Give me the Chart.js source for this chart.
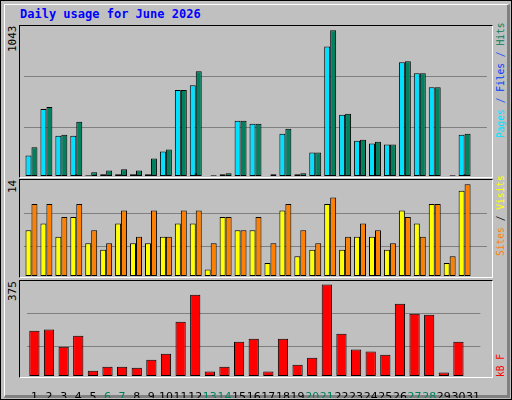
<!DOCTYPE html>
<html>
<head>
<meta charset="utf-8">
<script src="https://cdn.jsdelivr.net/npm/chart.js@4"></script>
<style>
  body { margin: 0; background: #fff; }
  #frame { position: absolute; left: 0; top: 0; width: 510px; height: 398px; border: 1px solid #000; background: #c0c0c0; }
  #shade { position: absolute; left: 3px; top: 3px; width: 502px; height: 390px; border-right: 3px solid #808080; border-bottom: 3px solid #808080; border-left: 1px solid #fff; border-top: 1px solid #fff; }
  .panel { position: absolute; left: 19px; width: 472px; border-left: 1px solid #000; border-top: 1px solid #000; border-right: 1px solid #fff; border-bottom: 1px solid #fff; }
  canvas { position: absolute; }
  .txt { position: absolute; font-family: "DejaVu Sans Mono", monospace; white-space: nowrap; }
  .rot { transform-origin: 0 0; transform: rotate(-90deg); }
</style>
</head>
<body>
<div id="frame"><div id="shade"></div></div>
<div class="txt" style="left:20px;top:7px;font-size:12px;font-weight:bold;color:#0000ff;">Daily usage for June 2026</div>

<div class="panel" style="top:25px;height:151px;"></div>
<div class="panel" style="top:179px;height:97px;"></div>
<div class="panel" style="top:280px;height:96px;"></div>
<canvas id="c1" style="left:24px;top:26px;"></canvas>
<canvas id="c2" style="left:24px;top:180px;"></canvas>
<canvas id="c3" style="left:24px;top:281px;"></canvas>

<div class="txt rot" style="left:6px;top:52px;font-size:11px;color:#000;">1043</div>
<div class="txt rot" style="left:6px;top:193px;font-size:11px;color:#000;">14</div>
<div class="txt rot" style="left:6px;top:301px;font-size:11px;color:#000;">375</div>

<div class="txt rot" style="left:495px;top:138px;font-size:9.6px;"><span style="color:#00e0ff">Pages</span><span style="color:#0040ff"> / Files / </span><span style="color:#00805c">Hits</span></div>
<div class="txt rot" style="left:495px;top:256px;font-size:9.6px;"><span style="color:#ff8000">Sites</span><span style="color:#000"> / </span><span style="color:#ffff00">Visits</span></div>
<div class="txt rot" style="left:495px;top:377px;font-size:9.6px;color:#ff0000;">kB F</div>

<script>
const days = ['1','2','3','4','5','6','7','8','9','10','11','12','13','14','15','16','17','18','19','20','21','22','23','24','25','26','27','28','29','30','31'];
const weekend = ['6','7','13','14','20','21','27','28'];
const hits = [206,494,296,388,26,40,48,40,125,189,615,750,5,19,395,374,12,338,19,168,1043,445,260,246,225,821,736,636,5,303,0];
const pages = [147,480,289,289,5,12,12,12,12,175,615,650,0,12,395,374,0,303,12,168,927,438,253,232,225,814,736,636,0,296,0];
const files = [5,3,3,12,2,3,4,3,4,3,3,20,1,3,3,3,2,4,3,4,8,4,5,3,3,4,4,6,1,12,0];
const visits = [7,8,6,9,5,4,8,5,5,6,8,8,1,9,7,7,2,10,3,4,11,4,6,6,4,10,8,11,2,13,0];
const sites = [11,11,9,11,7,5,10,6,10,6,10,10,5,9,7,9,5,11,7,5,12,6,8,7,5,9,6,11,3,14,0];
const kbytes = [185,190,120,165,22,38,38,34,67,91,222,333,18,38,140,153,18,153,46,75,375,173,108,100,87,296,255,251,14,140,0];

Chart.defaults.animation = false;
Chart.defaults.responsive = false;
Chart.defaults.devicePixelRatio = 1;
Chart.defaults.plugins.legend.display = false;
Chart.defaults.plugins.tooltip.enabled = false;

const size = (id, w, h) => {
	const c = document.getElementById(id);
	c.width = w; c.height = h;
	c.style.width = w + 'px'; c.style.height = h + 'px';
	return c;
};

const yAxis = (max, lines) => ({
	min: 0, max: max,
	afterBuildTicks: (axis) => { axis.ticks = lines.map(v => ({ value: v })); },
	afterFit: (axis) => { axis.width = 0; },
	ticks: { display: false },
	grid: { color: '#808080', lineWidth: 1, drawTicks: false },
	border: { display: false }
});
const xAxis = (show) => ({ display: show, offset: true, grid: { display: false }, ticks: { display: false }, border: { display: false } });

const bar = (label, data, color, extra) => Object.assign({
	label: label, data: data, backgroundColor: color,
	borderColor: '#000', borderWidth: 1, borderSkipped: false,
	categoryPercentage: 0.8, barPercentage: 1
}, extra || {});

new Chart(size('c1', 463, 150), {
	type: 'bar',
	data: {
		labels: days,
		datasets: [
			bar('Hits', hits, '#00805c', { order: 3 }),
			bar('Pages', pages, '#00e0ff', { order: 2 }),
			bar('Files', files, '#0040ff', { grouped: false, barPercentage: 0.2, order: 1 })
		]
	},
	options: {
		layout: { padding: 0 },
		scales: { x: xAxis(false), y: yAxis(1074, [350, 712]) }
	}
});

new Chart(size('c2', 463, 96), {
	type: 'bar',
	data: {
		labels: days,
		datasets: [
			bar('Visits', visits, '#ffff00'),
			bar('Sites', sites, '#ff8000')
		]
	},
	options: {
		layout: { padding: 0 },
		scales: { x: xAxis(false), y: yAxis(14.66, [4.57, 9.6]) }
	}
});

// bottom panel also carries the day labels
new Chart(size('c3', 463, 117), {
	type: 'bar',
	data: {
		labels: days,
		datasets: [bar('kB F', kbytes, '#ff0000', { categoryPercentage: 0.7 })]
	},
	options: {
		layout: { padding: 0 },
		scales: {
			x: {
				offset: true,
				afterFit: (axis) => { axis.height = 22; },
				grid: { display: false }, border: { display: false },
				ticks: {
					autoSkip: false, maxRotation: 0, padding: 7,
					font: { family: 'DejaVu Sans', size: 11 },
					color: (ctx) => weekend.includes(days[ctx.index]) ? '#00805c' : '#000'
				}
			},
			y: yAxis(389, [120, 255])
		}
	}
});
</script>
</body>
</html>
